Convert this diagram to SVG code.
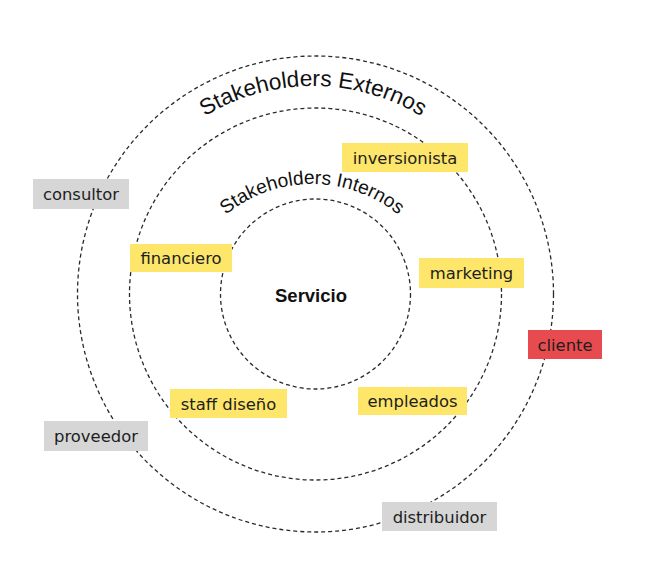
<svg xmlns="http://www.w3.org/2000/svg" width="657" height="580" viewBox="0 0 657 580">
<style>
.ring{fill:none;stroke:#2a2a2a;stroke-width:1.3;stroke-dasharray:4 3}
.box{stroke:none}
.y{fill:#fde66a}
.g{fill:#d6d6d6}
.r{fill:#e84b4f}
.lbl{font-family:"DejaVu Sans",Verdana,sans-serif;font-size:16.4px;fill:#1e1e1e;text-anchor:middle}
.arc{font-family:"Liberation Sans",Arial,sans-serif;fill:#111;text-anchor:middle}
</style>
<defs>
<path id="pExt" d="M 105 294 A 208 208 0 0 1 521 294"/>
<path id="pInt" d="M 176 320 A 136 136 0 0 1 448 320"/>
</defs>
<rect width="657" height="580" fill="#fff"/>
<g id="rings">
<circle id="ring-outer" class="ring" cx="315.5" cy="294" r="238"/>
<circle id="ring-middle" class="ring" cx="315.5" cy="294" r="186"/>
<circle id="ring-inner" class="ring" cx="315.5" cy="294" r="95"/>
</g>
<g id="ring-titles">
<text class="arc" font-size="22.6"><textPath href="#pExt" startOffset="50%">Stakeholders Externos</textPath></text>
<text class="arc" font-size="19.2"><textPath href="#pInt" startOffset="50%">Stakeholders Internos</textPath></text>
</g>
<g id="connectors"></g>
<g id="servicio"><text x="311" y="302" font-family="'Liberation Sans',Arial,sans-serif" font-weight="bold" font-size="18.5" fill="#111" text-anchor="middle">Servicio</text></g>
<g id="inversionista"><rect class="box y" x="342" y="143" width="126" height="29"/><text class="lbl" x="405" y="163.5">inversionista</text></g>
<g id="consultor"><rect class="box g" x="33" y="179" width="96" height="30"/><text class="lbl" x="81" y="200">consultor</text></g>
<g id="financiero"><rect class="box y" x="130" y="244" width="102" height="28"/><text class="lbl" x="181" y="264">financiero</text></g>
<g id="marketing"><rect class="box y" x="419" y="258" width="105" height="30"/><text class="lbl" x="471.5" y="279">marketing</text></g>
<g id="cliente"><rect class="box r" x="528" y="330" width="74" height="29"/><text class="lbl" x="565" y="350.5">cliente</text></g>
<g id="staff-diseno"><rect class="box y" x="170" y="389" width="117" height="29"/><text class="lbl" x="228.5" y="409.5">staff diseño</text></g>
<g id="empleados"><rect class="box y" x="358" y="387" width="109" height="28"/><text class="lbl" x="412.5" y="407">empleados</text></g>
<g id="proveedor"><rect class="box g" x="44" y="421" width="104" height="30"/><text class="lbl" x="96" y="442">proveedor</text></g>
<g id="distribuidor"><rect class="box g" x="382" y="502" width="115" height="29"/><text class="lbl" x="439.5" y="522.5">distribuidor</text></g>
</svg>
